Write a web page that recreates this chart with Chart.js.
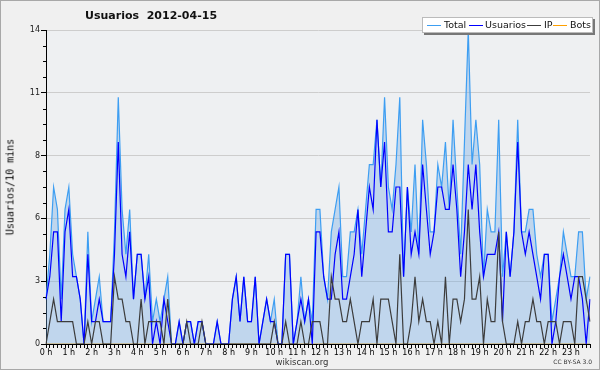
<!DOCTYPE html>
<html>
<head>
<meta charset="utf-8">
<script src="https://cdn.jsdelivr.net/npm/chart.js@4.4.1/dist/chart.umd.min.js"></script>
<style>
  body { margin: 0; background: #f0f0f0; }
  #wrap { position: relative; width: 600px; height: 370px; background: #f0f0f0; overflow: hidden; font-family: "DejaVu Sans", sans-serif; }
  #frame { position: absolute; left: 0; top: 0; width: 598px; height: 368px; border: 1px solid #a8a8a8; pointer-events: none; }
  canvas { position: absolute; left: 0; top: 0; }
  .txt { position: absolute; white-space: pre; color: #111; }
  #title { left: 85px; top: 9px; font-weight: bold; font-size: 11px; }
  #ytitle { left: 10px; top: 187px; font-family: "DejaVu Sans Mono", monospace; font-size: 10px; color: #000; transform: translate(-50%, -50%) rotate(-90deg); }
  #site { left: 302px; top: 362px; font-size: 8.5px; color: #333; transform: translate(-50%, -50%); }
  #lic { right: 8px; top: 358px; font-size: 6px; color: #333; }
  #legend { position: absolute; left: 422px; top: 17px; width: 169px; height: 14px; background: #fff; border: 1px solid #bbb; box-shadow: 2px 2px 0 #777; }
  .li { position: absolute; top: 0; height: 14px; line-height: 14px; font-size: 9.5px; color: #111; }
  .sw { position: absolute; top: 7px; width: 14px; height: 1px; }
</style>
</head>
<body>
<div id="wrap">
  <canvas id="chart" width="600" height="370"></canvas>
  <div class="txt" id="title">Usuarios  2012-04-15</div>
  <div class="txt" id="ytitle">Usuarios/10 mins</div>
  <div class="txt" id="site">wikiscan.org</div>
  <div class="txt" id="lic">CC BY-SA 3.0</div>
  <div id="legend"></div>
  <div id="frame"></div>
</div>
<script>
const hourLabels = ['0 h','1 h','2 h','3 h','4 h','5 h','6 h','7 h','8 h','9 h','10 h','11 h',
                    '12 h','13 h','14 h','15 h','16 h','17 h','18 h','19 h','20 h','21 h','22 h','23 h'];
const yTickValues = [0, 2.8, 5.6, 8.4, 11.2, 14];
const yTickLabels = ['0', '3', '6', '8', '11', '14'];

// one value per 10 minutes
const total = [
  2,4,7,6,2,6,7,4,3,2,0,5,1,2,3,1,1,1,5,11,6,4,6,2,
  4,4,2,4,1,2,1,2,3,0,0,1,0,1,1,0,1,1,0,0,0,1,0,0,
  0,2,3,1,3,1,1,3,0,1,2,1,2,0,0,4,4,0,1,3,1,2,1,6,
  6,3,2,5,6,7,3,3,5,5,6,4,6,8,8,10,7,11,7,6,8,11,3,7,
  5,8,4,10,8,5,5,8,7,9,6,10,7,4,9,14,8,10,8,3,6,5,5,10,
  3,5,3,5,10,5,5,6,6,4,3,4,4,1,2,3,5,4,3,3,5,5,2,3
];
const usuarios = [
  2,3,5,5,1,5,6,3,3,2,0,4,1,1,2,1,1,1,4,9,4,3,5,2,
  4,4,2,3,0,1,0,2,1,0,0,1,0,1,1,0,1,1,0,0,0,1,0,0,
  0,2,3,1,3,1,1,3,0,1,2,1,1,0,0,4,4,0,1,2,1,2,0,5,
  5,3,2,2,4,5,2,2,3,4,6,3,5,7,6,10,7,9,5,5,7,7,3,7,
  4,5,4,8,6,4,5,7,7,6,6,8,6,3,5,8,6,8,5,3,4,4,4,5,
  1,5,3,5,9,5,4,5,4,3,2,4,4,0,1,3,4,3,2,3,3,2,0,2
];
const ip = [
  0,1,2,1,1,1,1,1,0,0,0,1,0,1,1,0,0,0,3,2,2,1,1,0,
  0,2,0,1,1,1,1,0,2,0,0,0,0,1,0,0,0,1,0,0,0,0,0,0,
  0,0,0,0,0,0,0,0,0,0,0,0,1,0,0,1,0,0,0,1,0,0,1,1,
  1,0,0,3,2,2,1,1,2,1,0,1,1,1,2,0,2,2,2,1,0,4,0,0,
  1,3,1,2,1,1,0,1,0,3,0,2,2,1,2,6,2,2,3,0,2,1,1,5,
  1,0,0,0,1,0,1,1,2,1,1,0,1,1,1,0,1,1,1,0,3,3,2,1
];
const bots = [
  0,0,0,0,0,0,0,0,0,0,0,0,0,0,0,0,0,0,0,0,0,0,0,0,
  0,0,0,0,0,0,0,0,0,0,0,0,0,0,0,0,0,0,0,0,0,0,0,0,
  0,0,0,0,0,0,0,0,0,0,0,0,0,0,0,0,0,0,0,0,0,0,0,0,
  0,0,0,0,0,0,0,0,0,0,0,0,0,0,0,0,0,0,0,0,0,0,0,0,
  0,0,0,0,0,0,0,0,0,0,0,0,0,0,0,0,0,0,0,0,0,0,0,0,
  0,0,0,0,0,0,0,0,0,0,0,0,0,0,0,0,0,0,0,0,0,0,0,0
];

const series = [
  { label: 'Total',    data: total,    color: '#3d9ef2', order: 3 },
  { label: 'Usuarios', data: usuarios, color: '#0000ff', order: 2 },
  { label: 'IP',       data: ip,       color: '#3c3c3c', order: 1 },
  { label: 'Bots',     data: bots,     color: '#ffa000', order: 4 }
];

// 6 slots per hour, label only on the hour
const slots = [];
hourLabels.forEach(h => { for (let k = 0; k < 6; k++) slots.push(k === 0 ? h : ''); });

// legend
const legend = document.getElementById('legend');
const legendPos = [[4, 21], [46, 62], [104, 121], [130, 147]];
series.forEach((s, i) => {
  const sw = document.createElement('div');
  sw.className = 'sw';
  sw.style.left = legendPos[i][0] + 'px';
  sw.style.background = s.color;
  legend.appendChild(sw);
  const t = document.createElement('div');
  t.className = 'li';
  t.style.left = legendPos[i][1] + 'px';
  t.textContent = s.label;
  legend.appendChild(t);
});

const plotBg = {
  id: 'plotBg',
  beforeDraw(chart) {
    const { ctx, chartArea: a } = chart;
    ctx.save();
    ctx.fillStyle = '#eef0f2';
    ctx.fillRect(a.left, a.top, a.right - a.left, a.bottom - a.top);
    ctx.restore();
  }
};

const minorTicks = {
  id: 'minorTicks',
  afterDraw(chart) {
    const { ctx } = chart;
    const y = chart.scales.y;
    ctx.save();
    ctx.strokeStyle = '#000';
    ctx.lineWidth = 1;
    for (let k = 1; k < 20; k++) {
      if (k % 4 === 0) continue;
      const py = Math.round(y.getPixelForValue(k * 0.7)) + 0.5;
      ctx.beginPath();
      ctx.moveTo(y.right - 3, py);
      ctx.lineTo(y.right, py);
      ctx.stroke();
    }
    ctx.restore();
  }
};

Chart.defaults.font.family = '"DejaVu Sans", sans-serif';

new Chart(document.getElementById('chart').getContext('2d'), {
  type: 'line',
  data: {
    labels: slots,
    datasets: series.map(s => ({
      label: s.label,
      data: s.data,
      borderColor: s.color,
      borderWidth: 1.2,
      backgroundColor: s.label === 'Total' ? 'rgba(110,170,228,0.36)' : 'transparent',
      fill: s.label === 'Total' ? 'origin' : false,
      pointRadius: 0,
      tension: 0,
      order: s.order
    }))
  },
  options: {
    responsive: false,
    animation: false,
    layout: { padding: { top: 30, right: 10, left: 0, bottom: 0 } },
    plugins: { legend: { display: false }, tooltip: { enabled: false }, title: { display: false } },
    scales: {
      x: {
        type: 'category',
        offset: false,
        z: 1,
        ticks: { autoSkip: false, maxRotation: 0, minRotation: 0, font: { size: 8 }, color: '#000', padding: 0 },
        grid: { drawOnChartArea: false, tickLength: 4, color: '#000', tickColor: '#000' },
        border: { color: '#000' },
        afterFit: s => { s.height = 26; }
      },
      y: {
        min: 0,
        max: 14,
        afterBuildTicks: s => { s.ticks = yTickValues.map(v => ({ value: v })); },
        ticks: { callback: (v, i) => yTickLabels[i], font: { size: 8 }, color: '#222', padding: 1 },
        grid: { color: '#cdcdcd', tickColor: '#000', tickLength: 5 },
        border: { color: '#000' },
        afterFit: s => { s.width = 46; }
      }
    }
  },
  plugins: [plotBg, minorTicks]
});
</script>
</body>
</html>
